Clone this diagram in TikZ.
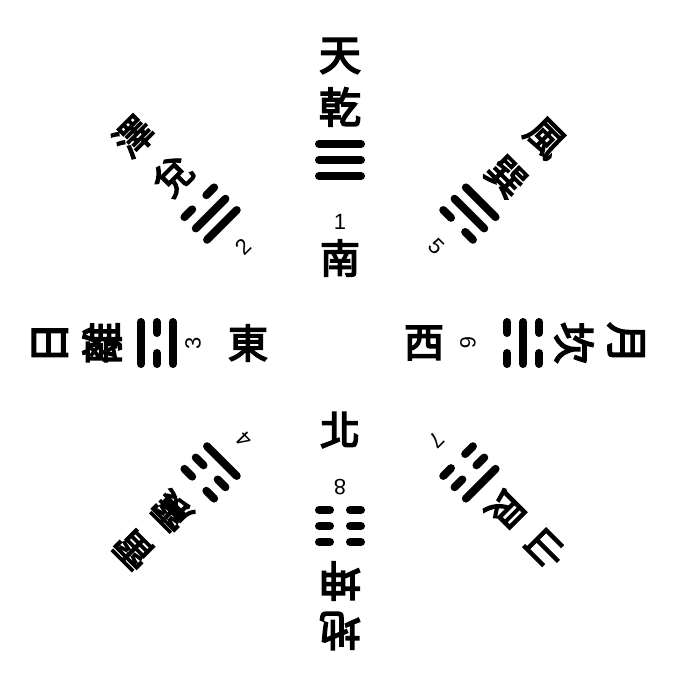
\documentclass[tikz,border=0pt]{standalone}
\usepackage{fontspec}
\newfontfamily\cjk[FakeBold=4]{Noto Sans CJK TC}
\newfontfamily\numf{Liberation Sans}
\tikzset{
  chr/.style={font=\cjk\fontsize{#1}{#1}\selectfont, inner sep=0pt, transform shape},
  dirchr/.style={font=\cjk\fontsize{40}{40}\selectfont, inner sep=0pt},
  num/.style={font=\numf\fontsize{22}{22}\selectfont, inner sep=0pt, transform shape},
  yaoline/.style={line width=8pt, line cap=round},
}
\newcommand\yaoat[2]{\ifnum#2=1\relax
  \draw[yaoline] (-21,#1) -- (21,#1);\else
  \draw[yaoline] (-21,#1) -- (-10,#1) (10,#1) -- (21,#1);\fi}
\begin{document}
\begin{tikzpicture}[x=1pt,y=1pt]
\useasboundingbox (0,0) rectangle (700,674);
\coordinate (C) at (340,331);
\foreach \ang/\outer/\inner/\t/\m/\b/\n/\nr/\id/\fs/\ro/\ri in {
  90/天/乾/1/1/1/1/121/a/42/287/236,
  135/澤/兌/0/1/1/2/136/b/38/292/236,
  180/日/離/1/0/1/3/147/c/42/290/238,
  225/雷/震/0/0/1/4/136/d/38/292/238,
  45/風/巽/1/1/0/5/136/e/38/290/235,
  0/月/坎/0/1/0/6/128/f/42/286/234,
  315/山/艮/1/0/0/7/137/g/38/291/235,
  270/地/坤/0/0/0/8/144/h/42/288/238}{
  \begin{scope}[shift={(C)}, rotate=\ang-90]
    \node[chr=\fs] (o\id) at (0,\ro) {\outer};
    \node[chr=\fs] (i\id) at (0,\ri) {\inner};
    \yaoat{199}{\t}
    \yaoat{183}{\m}
    \yaoat{167}{\b}
    \node[num] (n\id) at (0,\nr) {\n};
  \end{scope}
}
\node[dirchr] (south) at (340,416) {南};
\node[dirchr] (east) at (248,331) {東};
\node[dirchr] (west) at (424,331) {西};
\node[dirchr] (north) at (340,244) {北};
\end{tikzpicture}
\end{document}
